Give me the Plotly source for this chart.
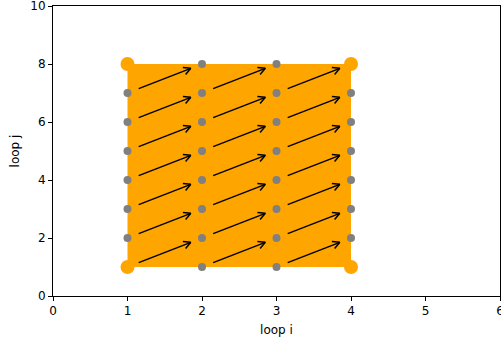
import math
import plotly.graph_objects as go

# ---- data ----
corner_i = [1, 1, 4, 4]
corner_j = [1, 8, 8, 1]
dot_i = [1]*6 + [2]*8 + [3]*8 + [4]*6
dot_j = list(range(2, 8)) + list(range(1, 9)) + list(range(1, 9)) + list(range(2, 8))
arrow_i = [1, 2, 3]
arrow_j = [1, 2, 3, 4, 5, 6, 7]
x_ticks = [0, 1, 2, 3, 4, 5, 6]
y_ticks = [0, 2, 4, 6, 8, 10]

# ---- layout constants ----
W, H = 501, 343
ML, MR, MT, MB = 53, 1, 6, 47
XR = (0, 6)
YR = (0, 10)
pw = W - ML - MR
ph = H - MT - MB
sx = pw / (XR[1] - XR[0])
sy = ph / (YR[1] - YR[0])

fig = go.Figure()

# orange filled rectangle
fig.add_trace(go.Scatter(
    x=corner_i + [corner_i[0]], y=corner_j + [corner_j[0]],
    mode="lines", fill="toself", fillcolor="#FFA500",
    line=dict(width=0, color="#FFA500"), hoverinfo="skip"))

# gray dots
fig.add_trace(go.Scatter(x=dot_i, y=dot_j, mode="markers",
                         marker=dict(color="#808080", size=8), hoverinfo="skip"))

# arrows
ax_, ay_ = [], []
start_off, end_off = 0.15, 0.85
head_len = 8.0
head_ang = math.radians(28)
for i in arrow_i:
    for j in arrow_j:
        x0, y0 = i + start_off, j + start_off
        x1, y1 = i + end_off, j + end_off
        ax_ += [x0, x1, None]
        ay_ += [y0, y1, None]
        dx = (x1 - x0) * sx
        dy = (y1 - y0) * sy
        ang = math.atan2(dy, dx)
        for s in (1, -1):
            a = ang + math.pi + s * head_ang
            hx = x1 + head_len * math.cos(a) / sx
            hy = y1 + head_len * math.sin(a) / sy
            ax_ += [x1, hx, None]
            ay_ += [y1, hy, None]
fig.add_trace(go.Scatter(x=ax_, y=ay_, mode="lines",
                         line=dict(color="black", width=1.5), hoverinfo="skip"))

# orange corners
fig.add_trace(go.Scatter(x=corner_i, y=corner_j, mode="markers",
                         marker=dict(color="#FFA500", size=14), hoverinfo="skip"))

axis_common = dict(showgrid=False, zeroline=False, showline=True, linecolor="black",
                   linewidth=1, mirror=True, ticks="outside", ticklen=4, tickwidth=1,
                   tickcolor="black", tickfont=dict(size=12, color="black"),
                   ticklabeloverflow="allow")
fig.update_xaxes(range=list(XR), tickvals=x_ticks, ticktext=[str(v) for v in x_ticks],
                 title=dict(text="loop i", font=dict(size=12, color="black"), standoff=8),
                 **axis_common)
fig.update_yaxes(range=list(YR), tickvals=y_ticks, ticktext=[str(v) for v in y_ticks],
                 title=dict(text="loop j", font=dict(size=12, color="black"), standoff=8),
                 **axis_common)

fig.update_layout(width=W, height=H, autosize=False,
                  margin=dict(l=ML, r=MR, t=MT, b=MB, autoexpand=False),
                  plot_bgcolor="white", paper_bgcolor="white", showlegend=False,
                  font=dict(family="DejaVu Sans", color="black"))

fig.write_html("out.html", config={"displayModeBar": False},
               post_script="document.body.style.margin='0';document.body.style.overflow='hidden';")
